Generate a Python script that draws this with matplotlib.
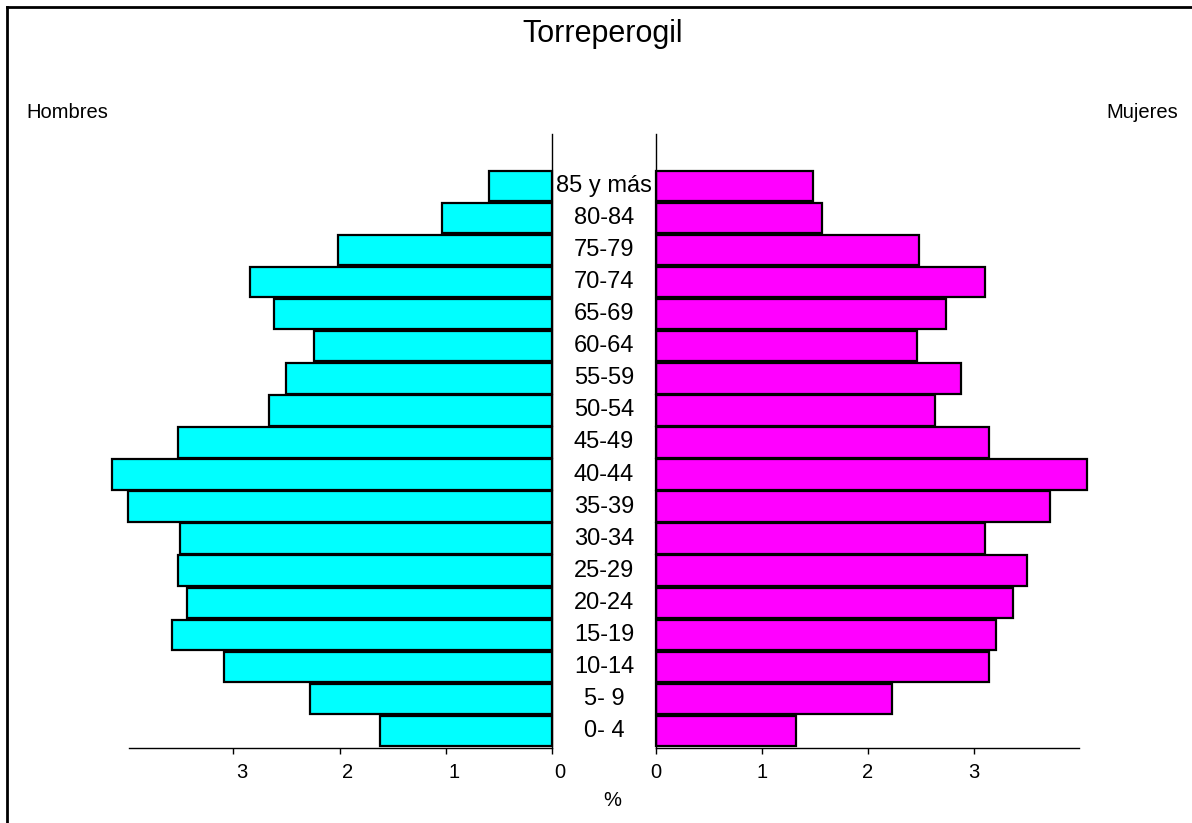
import matplotlib
matplotlib.use("Agg")
import matplotlib.pyplot as plt
import matplotlib.transforms as mtransforms
from matplotlib.lines import Line2D

plt.rcParams['font.family'] = ['Liberation Sans', 'DejaVu Sans']

# age groups, bottom to top
ages = ['0- 4', '5- 9', '10-14', '15-19', '20-24', '25-29', '30-34', '35-39',
        '40-44', '45-49', '50-54', '55-59', '60-64', '65-69', '70-74', '75-79',
        '80-84', '85 y más']
hombres = [1.62, 2.28, 3.09, 3.58, 3.44, 3.52, 3.50, 3.99,
           4.14, 3.52, 2.67, 2.51, 2.24, 2.62, 2.84, 2.02, 1.035, 0.60]
mujeres = [1.325, 2.23, 3.14, 3.21, 3.37, 3.50, 3.10, 3.72,
           4.07, 3.14, 2.63, 2.88, 2.46, 2.74, 3.10, 2.48, 1.57, 1.48]
ticks = [0, 1, 2, 3]

W, H = 1192, 823
fig = plt.figure(figsize=(W / 100, H / 100), dpi=100)

def px_axes(x0, x1, ytop, ybot):
    return fig.add_axes([x0 / W, (H - ybot) / H, (x1 - x0) / W, (ybot - ytop) / H])

axL = px_axes(129.3, 552.3, 134, 747.7)
axR = px_axes(656, 1079, 134, 747.7)

y = list(range(len(ages)))
axL.barh(y, hombres, height=0.95, color='#00FFFF', edgecolor='black', linewidth=1.6, clip_on=False)
axR.barh(y, mujeres, height=0.95, color='#FF00FF', edgecolor='black', linewidth=1.6, clip_on=False)

axL.set_xlim(3.98, 0)
axR.set_xlim(0, 3.99)
for ax in (axL, axR):
    ax.set_ylim(-0.52, 18.62)
    ax.set_yticks([])
    ax.set_xticks(ticks)
    ax.set_xticklabels([str(t) for t in ticks])
    ax.tick_params(axis='x', direction='out', length=4, width=1, labelsize=14.5, pad=7)
    ax.spines['top'].set_visible(False)
    ax.spines['bottom'].set_linewidth(1)
    ax.patch.set_alpha(0)
axL.spines['left'].set_visible(False)
axR.spines['right'].set_visible(False)
axL.spines['right'].set_linewidth(1)
axR.spines['left'].set_linewidth(1)

# left tick labels sit a bit right of their ticks
shift = mtransforms.ScaledTranslation(8 / 100, 0, fig.dpi_scale_trans)
for lab in axL.get_xticklabels():
    lab.set_transform(lab.get_transform() + shift)

# age labels in the middle gap
trans = mtransforms.blended_transform_factory(fig.transFigure, axL.transData)
for i, a in enumerate(ages):
    fig.text(604 / W, i, a, transform=trans, ha='center', va='center', fontsize=17,
             bbox=dict(facecolor='white', edgecolor='none', pad=0.5), zorder=5)

fig.text(603 / W, 1 - 34 / H, 'Torreperogil', ha='center', va='center', fontsize=22)
fig.text(26 / W, 1 - 112 / H, 'Hombres', ha='left', va='center', fontsize=14.5)
fig.text(1178 / W, 1 - 112 / H, 'Mujeres', ha='right', va='center', fontsize=14.5)
fig.text(612 / W, 1 - 801 / H, '%', ha='center', va='center', fontsize=14.5)

# frame of the original window
fig.add_artist(Line2D([7 / W, 1], [1 - 7 / H, 1 - 7 / H], color='black', linewidth=2))
fig.add_artist(Line2D([7 / W, 7 / W], [1 - 7 / H, 0], color='black', linewidth=2))

fig.savefig('out.png', dpi=100)
